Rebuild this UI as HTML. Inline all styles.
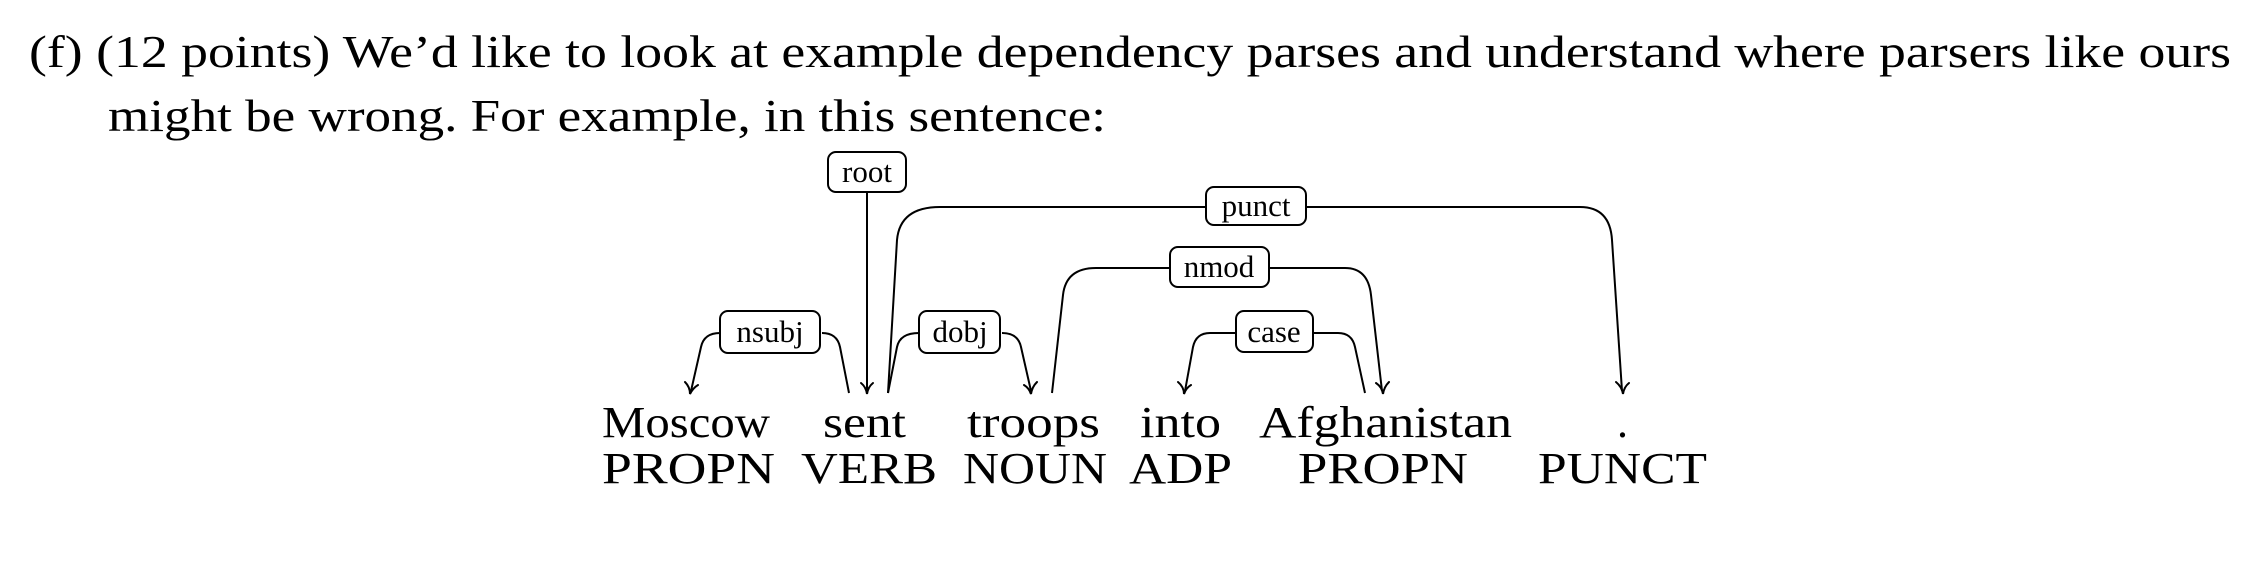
<!DOCTYPE html>
<html><head><style>
html,body{margin:0;padding:0;background:#fff;}
svg{display:block}
text{font-family:"Liberation Serif",serif;fill:#000}
</style></head><body>
<svg width="2258" height="568" viewBox="0 0 2258 568" xmlns="http://www.w3.org/2000/svg">
<g font-size="46">
<text x="29" y="67" textLength="2202" lengthAdjust="spacingAndGlyphs">(f)  (12 points)  We’d like to look at example dependency parses and understand where parsers like ours</text>
<text x="108" y="131" textLength="998" lengthAdjust="spacingAndGlyphs">might be wrong. For example, in this sentence:</text>
</g>
<g font-size="44">
<text x="602" y="437" textLength="168" lengthAdjust="spacingAndGlyphs">Moscow</text>
<text x="823" y="437" textLength="83" lengthAdjust="spacingAndGlyphs">sent</text>
<text x="967" y="437" textLength="133" lengthAdjust="spacingAndGlyphs">troops</text>
<text x="1140" y="437" textLength="81" lengthAdjust="spacingAndGlyphs">into</text>
<text x="1259" y="437" textLength="253" lengthAdjust="spacingAndGlyphs">Afghanistan</text>
<text x="1617" y="437">.</text>
<text x="602" y="483" textLength="173" lengthAdjust="spacingAndGlyphs">PROPN</text>
<text x="801" y="483" textLength="136" lengthAdjust="spacingAndGlyphs">VERB</text>
<text x="963" y="483" textLength="144" lengthAdjust="spacingAndGlyphs">NOUN</text>
<text x="1129" y="483" textLength="103" lengthAdjust="spacingAndGlyphs">ADP</text>
<text x="1298" y="483" textLength="170" lengthAdjust="spacingAndGlyphs">PROPN</text>
<text x="1538" y="483" textLength="169" lengthAdjust="spacingAndGlyphs">PUNCT</text>
</g>
<g fill="none" stroke="#000" stroke-width="2">
<!-- root -->
<path d="M867 192 V391"/>
<!-- nsubj -->
<path d="M849 393 L840 347 Q837 333 822 333 M720 333 Q704 333 701 347 L691 391"/>
<!-- punct -->
<path d="M888 393 L897 240 Q900 207 940 207 H1206 M1306 207 H1580 Q1610 207 1612 240 L1622 391"/>
<!-- dobj -->
<path d="M888 393 L897 347 Q900 333 919 333 M1002 333 Q1018 333 1021 347 L1031 391"/>
<!-- nmod -->
<path d="M1052 393 L1063 295 Q1066 268 1096 268 H1170 M1269 268 H1345 Q1368 268 1371 295 L1382 391"/>
<!-- case -->
<path d="M1365 393 L1355 347 Q1352 333 1338 333 H1313 M1236 333 H1210 Q1196 333 1193 347 L1185 391"/>
<!-- arrowheads -->
<g stroke-width="2" stroke-linecap="round">
<path d="M861 383 Q866 387 867 394 Q868 387 873 383"/>
<path d="M685 382 Q690 387 690 394 Q693 388 698 385"/>
<path d="M1616 382 Q1622 387 1623 394 Q1624 387 1629 383"/>
<path d="M1024 385 Q1029 388 1031 394 Q1032 387 1037 382"/>
<path d="M1376 383 Q1382 387 1383 394 Q1384 387 1389 382"/>
<path d="M1178 382 Q1184 387 1184 394 Q1186 388 1191 385"/>
</g>
<!-- boxes -->
<g stroke-width="2" fill="#fff">
<rect x="828" y="152" width="78" height="40" rx="8"/>
<rect x="720" y="311" width="100" height="42" rx="8"/>
<rect x="1206" y="187" width="100" height="38" rx="8"/>
<rect x="919" y="311" width="81" height="42" rx="8"/>
<rect x="1170" y="247" width="99" height="40" rx="8"/>
<rect x="1236" y="311" width="77" height="41" rx="8"/>
</g>
</g>
<g font-size="31">
<text x="867" y="182" text-anchor="middle">root</text>
<text x="770" y="342" text-anchor="middle">nsubj</text>
<text x="1256" y="216" text-anchor="middle">punct</text>
<text x="960" y="342" text-anchor="middle">dobj</text>
<text x="1219" y="277" text-anchor="middle">nmod</text>
<text x="1274" y="342" text-anchor="middle">case</text>
</g>
</svg>
</body></html>
